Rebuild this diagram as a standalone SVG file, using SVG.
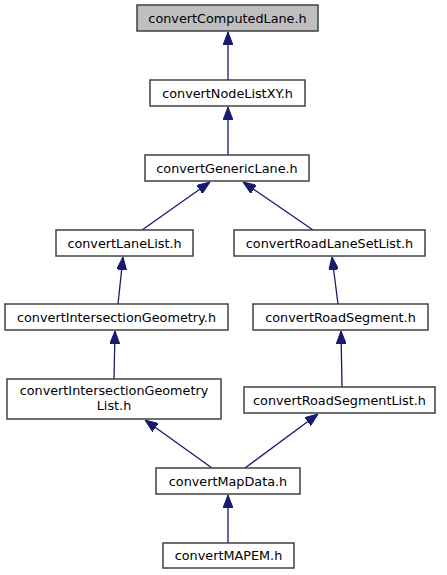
<svg xmlns="http://www.w3.org/2000/svg" width="447" height="575" viewBox="0 0 447 575">
<style>
.n rect{fill:#ffffff;stroke:#404040;stroke-width:1.5}
.n.g rect{fill:#bfbfbf}
.n text{font-family:"DejaVu Sans",sans-serif;font-size:12.8px;fill:#000;text-anchor:middle}
.e line{stroke:#191970;stroke-width:1.3;marker-end:url(#a)}
</style>
<defs>
<marker id="a" markerUnits="userSpaceOnUse" markerWidth="13" markerHeight="10" refX="13" refY="5" orient="auto">
<path d="M0,0 L13,5 L0,10 z" fill="#191970" stroke="#191970" stroke-width="1"/>
</marker>
</defs>
<rect width="447" height="575" fill="#ffffff"/>
<g id="edges" class="e">
<line x1="228" y1="80" x2="228" y2="32"/>
<line x1="228" y1="155" x2="228" y2="107"/>
<line x1="142" y1="230" x2="210" y2="182"/>
<line x1="313" y1="230" x2="243" y2="182"/>
<line x1="118" y1="304" x2="123" y2="257"/>
<line x1="338" y1="304" x2="332" y2="257"/>
<line x1="114" y1="379" x2="115" y2="331"/>
<line x1="342" y1="387" x2="341" y2="331"/>
<line x1="212" y1="468" x2="145" y2="420"/>
<line x1="245" y1="468" x2="318" y2="414"/>
<line x1="228" y1="543" x2="228" y2="495"/>
</g>
<g id="convertComputedLane" class="n g"><rect x="137" y="5" width="181" height="26"/><text x="227.5" y="22.5">convertComputedLane.h</text></g>
<g id="convertNodeListXY" class="n"><rect x="150" y="80" width="155" height="26"/><text x="227.5" y="97.5">convertNodeListXY.h</text></g>
<g id="convertGenericLane" class="n"><rect x="145" y="155" width="164" height="26"/><text x="227" y="172.5">convertGenericLane.h</text></g>
<g id="convertLaneList" class="n"><rect x="56" y="230" width="137" height="26"/><text x="124.5" y="247.5">convertLaneList.h</text></g>
<g id="convertRoadLaneSetList" class="n"><rect x="234" y="230" width="191" height="26"/><text x="329.5" y="247.5">convertRoadLaneSetList.h</text></g>
<g id="convertIntersectionGeometry" class="n"><rect x="5" y="304" width="223" height="26"/><text x="116.5" y="321.5">convertIntersectionGeometry.h</text></g>
<g id="convertRoadSegment" class="n"><rect x="253" y="304" width="175" height="26"/><text x="340.5" y="321.5">convertRoadSegment.h</text></g>
<g id="convertIntersectionGeometryList" class="n"><rect x="7" y="379" width="214" height="40"/><text x="114" y="394.5">convertIntersectionGeometry</text><text x="114" y="409.5">List.h</text></g>
<g id="convertRoadSegmentList" class="n"><rect x="244" y="387" width="191" height="26"/><text x="339.5" y="404.5">convertRoadSegmentList.h</text></g>
<g id="convertMapData" class="n"><rect x="156" y="468" width="144" height="26"/><text x="228" y="485.5">convertMapData.h</text></g>
<g id="convertMAPEM" class="n"><rect x="163" y="543" width="131" height="25"/><text x="228.5" y="560">convertMAPEM.h</text></g>
</svg>
